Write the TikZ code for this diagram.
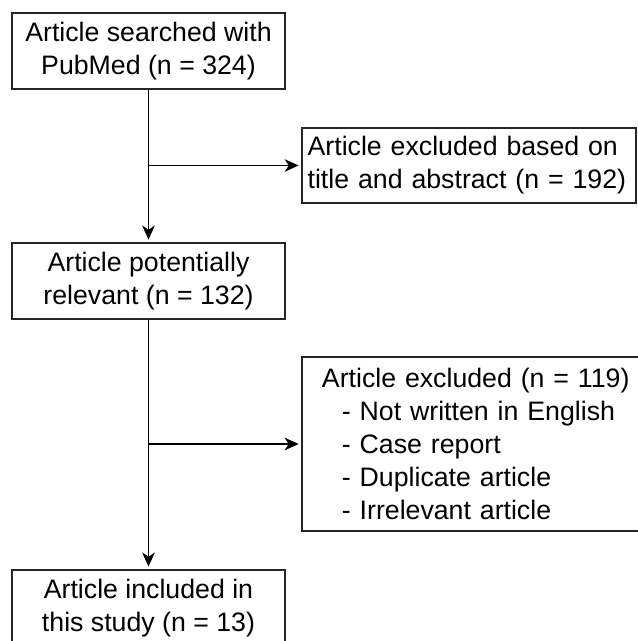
\documentclass[tikz,border=0pt]{standalone}
\usepackage{fontspec}
\setmainfont{Liberation Sans}
\usetikzlibrary{arrows.meta,calc,positioning}

\tikzset{
  flowbox/.style={draw=black!85, line width=0.8pt, fill=white, inner sep=0pt,
    font=\fontsize{19}{23.5}\selectfont},
  mainbox/.style={flowbox, align=center, minimum width=194.2pt, minimum height=54.1pt},
  sidebox/.style={flowbox, align=left},
  flowline/.style={line width=0.75pt, black},
  flowarrow/.style={flowline, -{Stealth[length=10pt,width=9pt,inset=3pt]}, shorten >=2pt}
}

\begin{document}
\begin{tikzpicture}[x=0.7114pt,y=-0.7114pt]
		\useasboundingbox (0,0) rectangle (638,641);
		\node[mainbox] (search) at (148.5,51) {Article searched with\\PubMed (n = 324)};
		\node[sidebox, text width=229.6pt, inner xsep=4pt, minimum height=53.4pt] (excltitle) at (469,165.5)
			{Article excluded based on\\title and abstract (n = 192)};
		\node[mainbox] (relevant) at (148.5,281) {Article potentially\\relevant (n = 132)};
		\node[sidebox, text width=219.2pt, inner xsep=14.2pt, minimum height=123.8pt] (exclfull) at (476,444)
			{Article excluded (n = 119)\\
			\hspace*{14.2pt}- Not written in English\\
			\hspace*{14.2pt}- Case report\\
			\hspace*{14.2pt}- Duplicate article\\
			\hspace*{14.2pt}- Irrelevant article};
		\node[mainbox] (included) at (148.5,608) {Article included in\\this study (n = 13)};
		% connectors
		\draw[flowarrow] (search.south) -- (relevant.north);
		\draw[flowarrow] (search.south |- excltitle.west) -- (excltitle.west);
		\draw[flowarrow] (relevant.south) -- (included.north);
		\draw[flowarrow] (relevant.south |- exclfull.west) -- (exclfull.west);
		\end{tikzpicture}
\end{document}
